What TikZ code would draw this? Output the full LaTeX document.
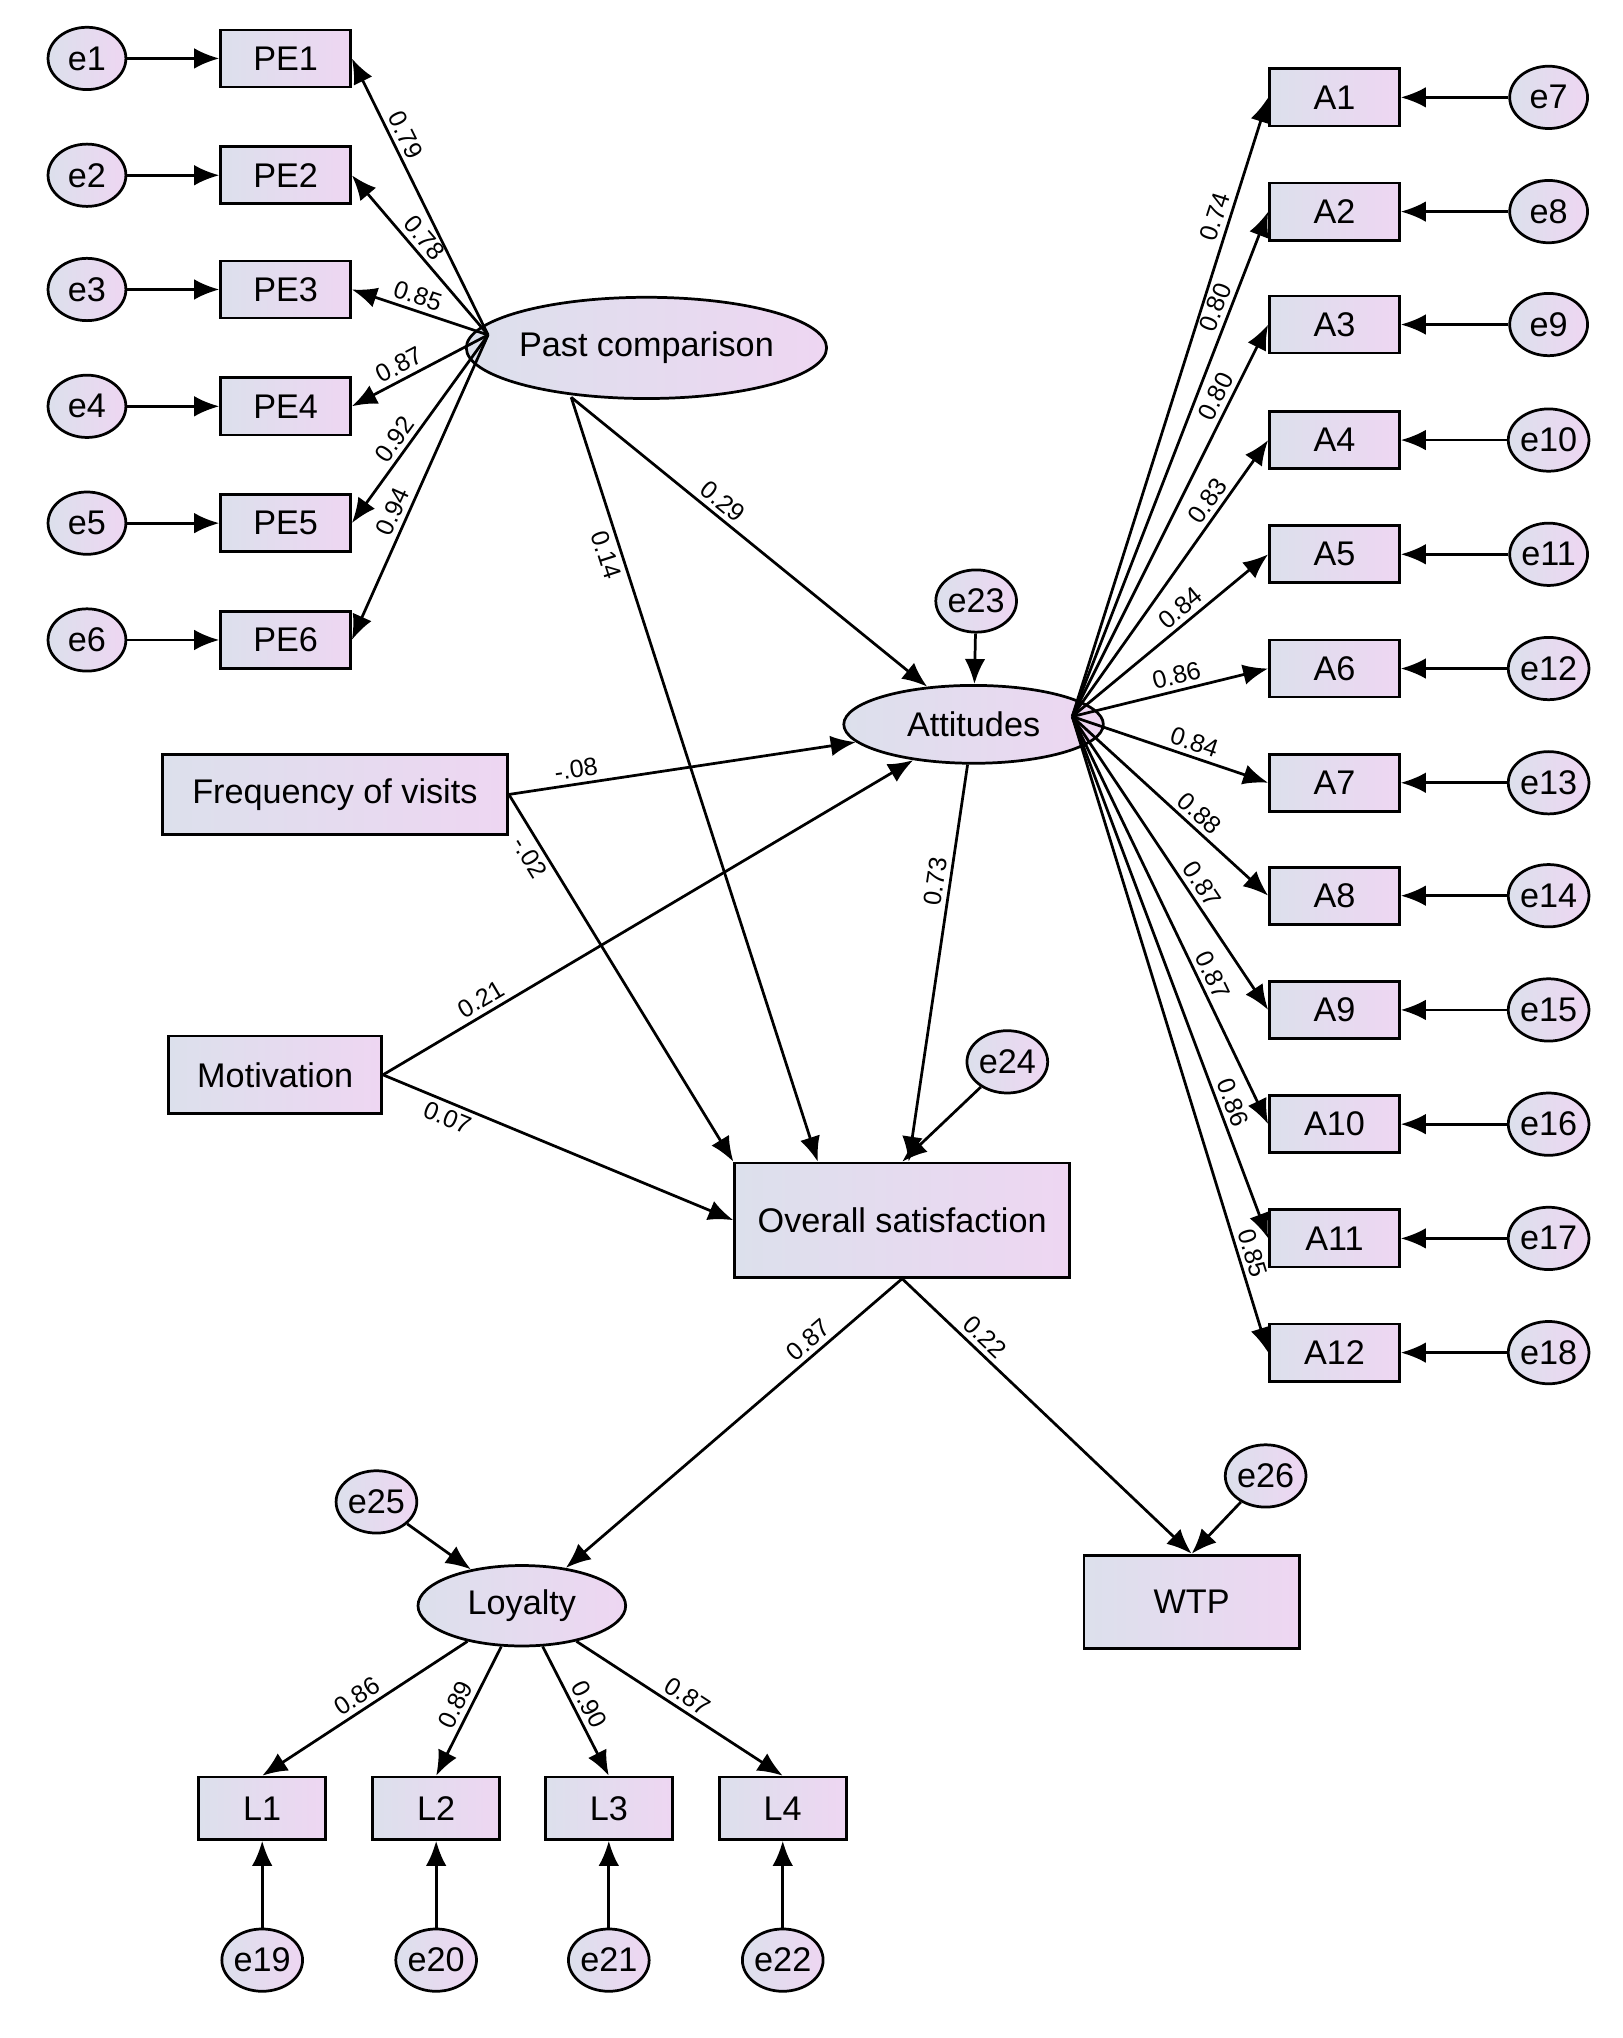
\documentclass[tikz,border=0pt]{standalone}
\usepackage{fontspec}
\setmainfont{Liberation Sans}
\usetikzlibrary{arrows.meta,shapes.geometric}
\definecolor{shadel}{RGB}{220,224,236}
\definecolor{shader}{RGB}{238,214,242}
\tikzset{
  box/.style = {draw, line width=1.2pt, left color=shadel, right color=shader, font=\fontsize{15}{17}\selectfont, inner sep=0pt},
  obs/.style = {box, rectangle, minimum width=2cm, minimum height=0.88cm},
  lat/.style = {box, ellipse},
  err/.style = {box, ellipse, minimum width=1.2cm, minimum height=0.96cm},
  path/.style = {draw, line width=1.2pt, -{Latex[length=11pt,width=9pt]}},
  wt/.style = {sloped, font=\fontsize{11}{13}\selectfont, inner sep=2pt}
}
\begin{document}
\begin{tikzpicture}[x=0.02cm, y=-0.02cm]
\useasboundingbox (0,0) rectangle (1250,1570);

% past comparison block
\node [lat, minimum width=5.16cm, minimum height=1.56cm] (pc) at (498,268) {Past comparison};
\coordinate (pcsrc) at (376,258);
\coordinate (pcbot) at (440,306);
\foreach \i/\y/\w/\p in {1/45/0.79/0.7, 2/135/0.78/0.55, 3/223/0.85/0.55, 4/313/0.87/0.6, 5/403/0.92/0.6, 6/493/0.94/0.6} {
  \node [obs] (pe\i) at (220,\y) {PE\i};
  \node [err] (e\i) at (67,\y) {e\i};
  \path [path] (e\i) -- (pe\i);
  \path [path] (pcsrc) -- node [wt, pos=\p, above] {\w} (pe\i.east);
}

% attitudes block
\node [lat, minimum width=4cm, minimum height=1.2cm] (att) at (750,558) {Attitudes};
\coordinate (attsrc) at (826,552);
\node [err] (e23) at (752,463) {e23};
\path [path] (e23) -- (att);
\foreach \i/\y/\w/\e/\p in {1/75/0.74/7/0.8, 2/163/0.80/8/0.8, 3/250/0.80/9/0.8, 4/339/0.83/10/0.75, 5/427/0.84/11/0.6, 6/515/0.86/12/0.55,
  7/603/0.84/13/0.6, 8/690/0.88/14/0.6, 9/778/0.87/15/0.6, 10/866/0.87/16/0.65, 11/954/0.86/17/0.75, 12/1042/0.85/18/0.85} {
  \node [obs] (a\i) at (1028,\y) {A\i};
  \node [err] (e\e) at (1193,\y) {e\e};
  \path [path] (e\e) -- (a\i);
  \path [path] (attsrc) -- node [wt, pos=\p, above] {\w} (a\i.west);
}

% structural part
\node [obs, minimum width=5.32cm, minimum height=1.24cm] (freq) at (258,612) {Frequency of visits};
\node [obs, minimum width=3.28cm, minimum height=1.2cm] (mot) at (212,828) {Motivation};
\node [obs, minimum width=5.16cm, minimum height=1.76cm] (os) at (695,940) {Overall satisfaction};
\node [err] (e24) at (776,818) {e24};

\path [path] (pcbot) -- node [wt, pos=0.4, above] {0.29} (att);
\path [path] (pcbot) -- node [wt, pos=0.2, below] {0.14} (os.north west -| 630,0);
\path [path] (freq.east) -- node [wt, pos=0.2, above] {-.08} (att);
\path [path] (freq.east) -- node [wt, pos=0.15, below] {-.02} (os.north west -| 565,0);
\path [path] (mot.east) -- node [wt, pos=0.2, above] {0.21} (att);
\path [path] (mot.east) -- node [wt, pos=0.2, below] {0.07} (os.west);
\path [path] (att) -- node [wt, pos=0.3, above] {0.73} (os.north -| 700,0);
\path [path] (e24) -- (os.north);

% outcomes
\node [lat, minimum width=3.2cm, minimum height=1.24cm] (loy) at (402,1237) {Loyalty};
\node [obs, minimum width=3.32cm, minimum height=1.44cm] (wtp) at (918,1234) {WTP};
\node [err] (e25) at (290,1157) {e25};
\node [err] (e26) at (975,1137) {e26};
\path [path] (os.south) -- node [wt, pos=0.25, above] {0.87} (loy);
\path [path] (os.south) -- node [wt, pos=0.25, above] {0.22} (wtp.north);
\path [path] (e25) -- (loy);
\path [path] (e26) -- (wtp.north);

\foreach \i/\x/\w/\e in {1/202/0.86/19, 2/336/0.89/20, 3/469/0.90/21, 4/603/0.87/22} {
  \node [obs, minimum width=1.96cm, minimum height=0.96cm] (l\i) at (\x,1393) {L\i};
  \node [err] (e\e) at (\x,1510) {e\e};
  \path [path] (e\e) -- (l\i);
  \path [path] (loy) -- node [wt, pos=0.5, above] {\w} (l\i.north);
}
\end{tikzpicture}
\end{document}
